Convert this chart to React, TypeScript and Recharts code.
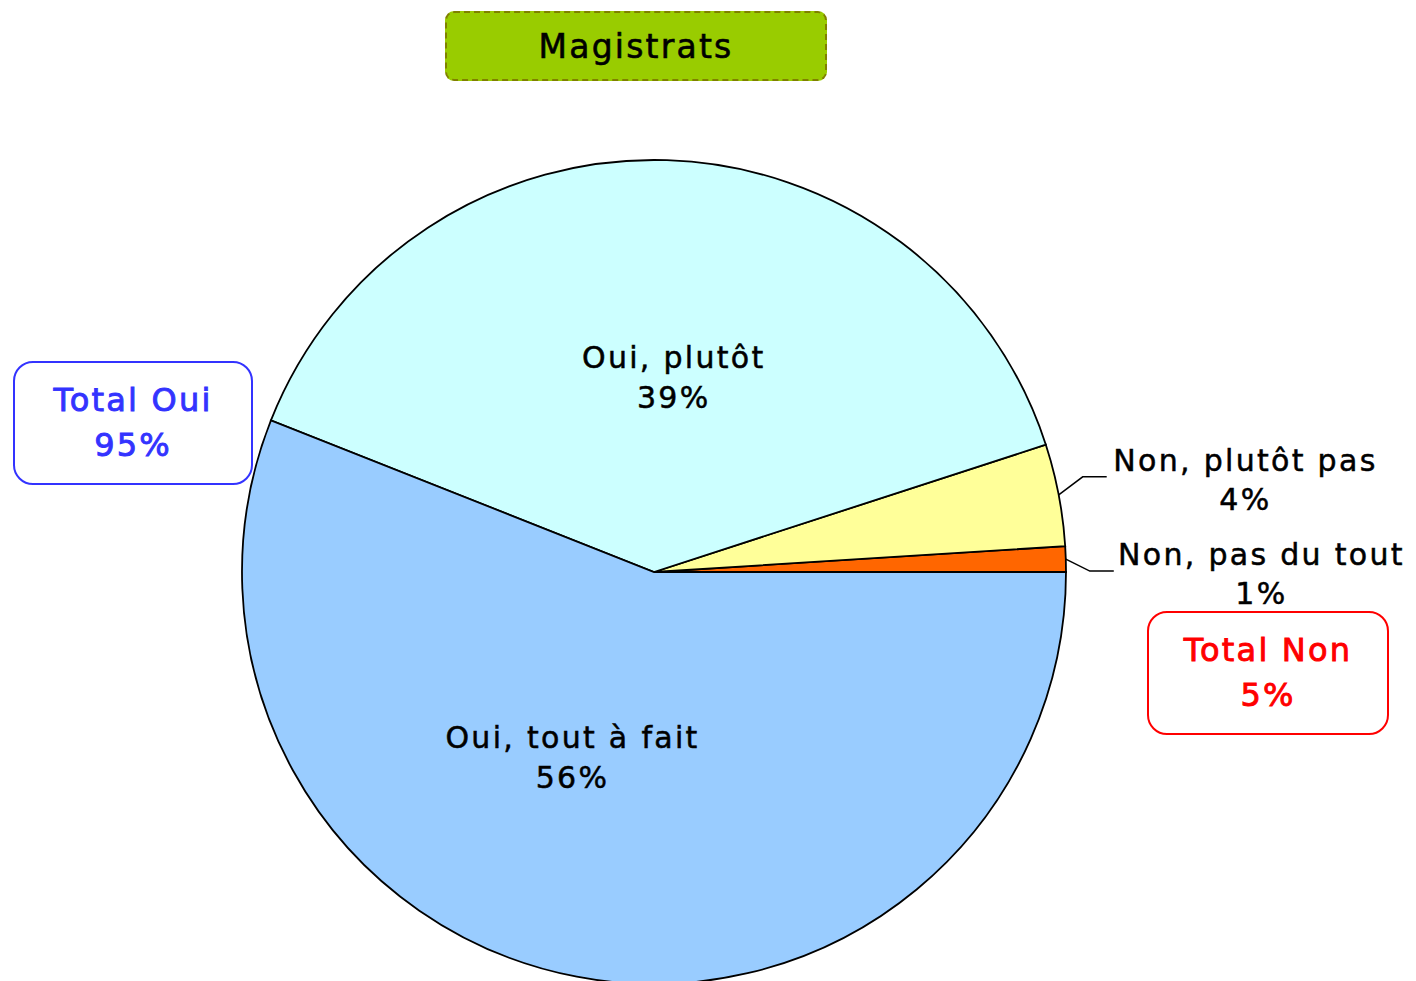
import { Cell, Pie, PieChart } from 'recharts'

const categories = ['Non, pas du tout', 'Non, plutôt pas', 'Oui, plutôt', 'Oui, tout à fait']
const shares = [1, 4, 39, 56]
const sliceColors = ['#FF6600', '#FFFF99', '#CCFFFF', '#99CCFF']
const chartTitle = 'Magistrats'
const totalOui = 95
const totalNon = 5

const data = categories.map((name, i) => ({ name, value: shares[i], color: sliceColors[i] }))

const W = 1416
const H = 981
const FONT = '"DejaVu Sans", Verdana, sans-serif'
const RAD = Math.PI / 180

// inside labels get a small angle/radius nudge, like Excel's best-fit placement
const insideNudge: Record<number, { da: number; r: number }> = {
  2: { da: -4, r: 0.475 },
  3: { da: -13, r: 0.49 },
}
// outer labels: vertical offset of the leader line end from the slice edge
const outsideDy: Record<number, number> = { 0: 12, 1: -18 }

function renderLabel(props: any) {
  const { cx, cy, midAngle, outerRadius, index, name, value } = props
  const txt = {
    fontFamily: FONT, fontSize: 30, fill: '#000', letterSpacing: 2.3,
    stroke: '#000', strokeWidth: 0.5,
  }
  if (value >= 10) {
    const n = insideNudge[index] ?? { da: 0, r: 0.48 }
    const a = (midAngle + n.da) * RAD
    const x = cx + outerRadius * n.r * Math.cos(a)
    const y = cy - outerRadius * n.r * Math.sin(a)
    return (
      <text x={x} y={y} textAnchor="middle" {...txt}>
        <tspan x={x} dy={-9}>{name}</tspan>
        <tspan x={x} dy={40}>{value}%</tspan>
      </text>
    )
  }
  const a = midAngle * RAD
  const sx = cx + outerRadius * Math.cos(a)
  const sy = cy - outerRadius * Math.sin(a)
  const ey = sy + (outsideDy[index] ?? 0)
  const ex = sx + 24
  const lx = ex + 24
  const tx = lx + 6 + (name.length * 17.7) / 2
  return (
    <g>
      <polyline points={`${sx},${sy} ${ex},${ey} ${lx},${ey}`} fill="none" stroke="#000" strokeWidth={1.5} />
      <text x={tx} y={ey} textAnchor="middle" {...txt}>
        <tspan x={tx} dy={-6}>{name}</tspan>
        <tspan x={tx} dy={39}>{value}%</tspan>
      </text>
    </g>
  )
}

const boxText = {
  fontFamily: FONT, fontSize: 32, letterSpacing: 2.2, lineHeight: '45px',
  textAlign: 'center' as const, WebkitTextStroke: '0.9px currentColor',
}

export default function App() {
  return (
    <div style={{ position: 'absolute', left: 0, top: 0, width: W, height: H, background: '#fff', overflow: 'hidden' }}>
      <PieChart width={W} height={H} margin={{ top: 0, right: 0, bottom: 0, left: 0 }}>
        <Pie
          data={data}
          dataKey="value"
          nameKey="name"
          cx={654}
          cy={572}
          outerRadius={412}
          startAngle={0}
          endAngle={360}
          stroke="#000"
          strokeWidth={1.8}
          label={renderLabel}
          labelLine={false}
          isAnimationActive={false}
        >
          {data.map((d) => (
            <Cell key={d.name} fill={d.color} />
          ))}
        </Pie>
      </PieChart>

      <div
        style={{
          position: 'absolute', left: 445, top: 11, width: 378, height: 66,
          background: '#99CC00', border: '2px dashed #808000', borderRadius: 9,
          display: 'flex', alignItems: 'center', justifyContent: 'center',
          fontFamily: FONT, fontSize: 33, letterSpacing: 2.2, color: '#000',
          WebkitTextStroke: '0.6px #000',
        }}
      >
        {chartTitle}
      </div>

      <div
        style={{
          position: 'absolute', left: 13, top: 361, width: 236, height: 120,
          border: '2px solid #3333FF', borderRadius: 20, color: '#3333FF',
          display: 'flex', flexDirection: 'column', justifyContent: 'center', ...boxText,
        }}
      >
        <div>Total Oui</div>
        <div>{totalOui}%</div>
      </div>

      <div
        style={{
          position: 'absolute', left: 1147, top: 611, width: 238, height: 120,
          border: '2px solid #FF0000', borderRadius: 20, color: '#FF0000',
          display: 'flex', flexDirection: 'column', justifyContent: 'center', ...boxText,
        }}
      >
        <div>Total Non</div>
        <div>{totalNon}%</div>
      </div>
    </div>
  )
}
